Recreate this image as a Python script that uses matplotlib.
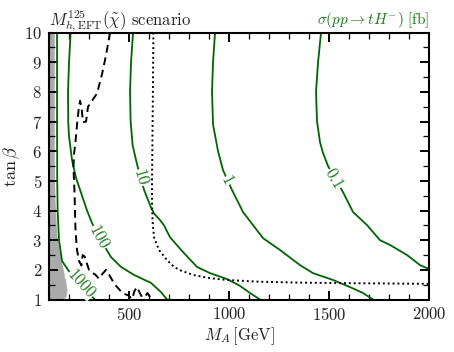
import matplotlib
matplotlib.use("Agg")
import matplotlib.pyplot as plt
import numpy as np

plt.rcParams['font.family'] = 'serif'
plt.rcParams['font.serif'] = ['cmr10']
plt.rcParams['mathtext.fontset'] = 'cm'
plt.rcParams['axes.formatter.use_mathtext'] = True

# izohipse preseka sigma(pp -> tH-) v fb, odcitane s slike
c1000_x = [140, 140, 141, 143, 150, 165, 200, 255, 300, 330]
c1000_y = [10, 7, 5, 4.0, 3.0, 2.3, 1.95, 1.55, 1.2, 1.0]
c100_x = [208, 200, 195, 196, 200, 215, 225, 235, 260, 290, 315, 350, 410, 460, 525, 610, 660, 690]
c100_y = [10, 9, 8, 7, 6.5, 5.7, 5.4, 5.1, 4.6, 4.0, 3.58, 3.1, 2.43, 2.10, 1.83, 1.56, 1.25, 1.0]
c10_x = [520, 510, 505, 508, 518, 535, 550, 575, 610, 625, 655, 675, 705, 770, 840, 905, 990, 1055, 1105, 1155]
c10_y = [10, 9, 8, 7.0, 6.2, 5.7, 5.3, 4.7, 4.1, 3.9, 3.68, 3.5, 3.1, 2.6, 2.1, 1.89, 1.69, 1.46, 1.22, 1.0]
c1_x = [930, 920, 915, 920, 945, 970, 1015, 1070, 1120, 1170, 1255, 1355, 1420, 1520, 1605, 1670, 1720]
c1_y = [10, 9, 8, 6.9, 6.0, 5.36, 4.69, 3.95, 3.51, 3.07, 2.67, 2.16, 1.89, 1.66, 1.42, 1.22, 1.0]
c01_x = [1460, 1445, 1435, 1440, 1455, 1470, 1495, 1570, 1620, 1690, 1755, 1805, 1890, 1955, 2000]
c01_y = [10, 9, 8, 7, 6.3, 5.94, 5.5, 4.62, 3.95, 3.51, 3.0, 2.84, 2.5, 2.16, 2.03]

# crtkana meja (izkljucitev)
dash_x = [405, 385, 365, 340, 295, 285, 270, 262, 255, 248, 240, 232, 225, 222, 225, 228, 230, 232, 236,
          240, 250, 262, 268, 278, 290, 300, 315, 330, 350, 365, 385, 395, 412, 430, 450, 470, 495,
          515, 528, 540, 552, 565, 580, 592, 602, 615]
dash_y = [10, 9.24, 8.6, 7.95, 7.5, 7.0, 6.98, 7.5, 7.7, 7.4, 6.9, 6.3, 5.9, 5.5, 5.0, 4.5, 3.9, 3.4, 3.0,
          2.67, 2.3, 2.15, 2.5, 2.45, 2.2, 2.0, 1.9, 1.85, 1.7, 1.85, 2.0, 1.9, 1.7, 1.5, 1.35, 1.2, 1.15,
          1.02, 1.3, 1.42, 1.25, 1.08, 1.1, 1.22, 1.12, 1.0]

# pikcasta meja
dot_x = [622, 618, 615, 615, 618, 625, 650, 690, 725, 755, 820, 905, 990, 1155, 1355, 1640, 2000]
dot_y = [10, 7, 5, 4.2, 3.6, 3.1, 2.67, 2.33, 2.1, 1.99, 1.83, 1.72, 1.66, 1.6, 1.57, 1.55, 1.53]

# sivo obmocje
siva_x = [126, 126, 127, 130, 138, 150, 168, 182, 190, 185, 165]
siva_y = [10, 6, 5, 4.35, 3.24, 2.67, 2.10, 1.66, 1.32, 1.1, 1.0]

# oznake izohips: besedilo, M_A, tan(beta), kot
oznake = ["1000", "100", "10", "1", "0.1"]
oznake_x = [262, 350, 555, 990, 1525]
oznake_y = [1.53, 3.1, 5.1, 5.0, 5.06]
oznake_kot = [-48, -61, -74, -62, -60]

zelena = '#006400'

fig = plt.figure(figsize=(4.54, 3.52), dpi=100)
ax = fig.add_axes([0.108, 0.149, 0.837, 0.7585])

ax.fill_betweenx(siva_y, 100, siva_x, color='#aaaaaa', lw=0)

for xs, ys in [(c1000_x, c1000_y), (c100_x, c100_y), (c10_x, c10_y), (c1_x, c1_y), (c01_x, c01_y)]:
    ax.plot(xs, ys, color=zelena, lw=1.3)

ax.plot(dash_x, dash_y, color='black', lw=1.4, ls=(0, (4, 2.5)))
ax.plot(dot_x, dot_y, color='black', lw=1.4, ls=(0, (1, 1.5)))

for t, x, y, k in zip(oznake, oznake_x, oznake_y, oznake_kot):
    ax.text(x, y, t, color='#1a7a1a', fontsize=12, rotation=k, rotation_mode='anchor',
            ha='center', va='center',
            bbox=dict(fc='white', ec='none', pad=0.3))

ax.set_xlim(100, 2000)
ax.set_ylim(1, 10)
ax.set_xticks([500, 1000, 1500, 2000])
ax.set_xticks(np.arange(100, 2001, 100), minor=True)
ax.set_yticks(np.arange(1, 11, 1))
ax.set_yticks(np.arange(1, 10.01, 0.5), minor=True)
ax.tick_params(which='both', direction='in', top=True, right=True, labelsize=12, colors='black',
               labelcolor='#222222', pad=5)
ax.tick_params(which='major', length=6.5, width=1.4)
ax.tick_params(which='minor', length=4, width=0.9)
for s in ax.spines.values():
    s.set_linewidth(1.5)

ax.set_xlabel(r'$M_A\,[\mathrm{GeV}]$', fontsize=12, color='#222222', labelpad=1)
ax.set_ylabel(r'$\tan\beta$', fontsize=13, color='#222222')
ax.yaxis.set_label_coords(-0.072, 0.5)

ax.set_title(r'$M_{h,\mathrm{EFT}}^{125}(\tilde{\chi})$ scenario', loc='left', fontsize=12,
             color='#222222', pad=4)
ax.set_title(r'$\sigma(pp\rightarrow tH^{-})\ [\mathrm{fb}]$', loc='right', fontsize=11,
             color='#1a7a1a', pad=4)

fig.savefig('out.png', dpi=100)
